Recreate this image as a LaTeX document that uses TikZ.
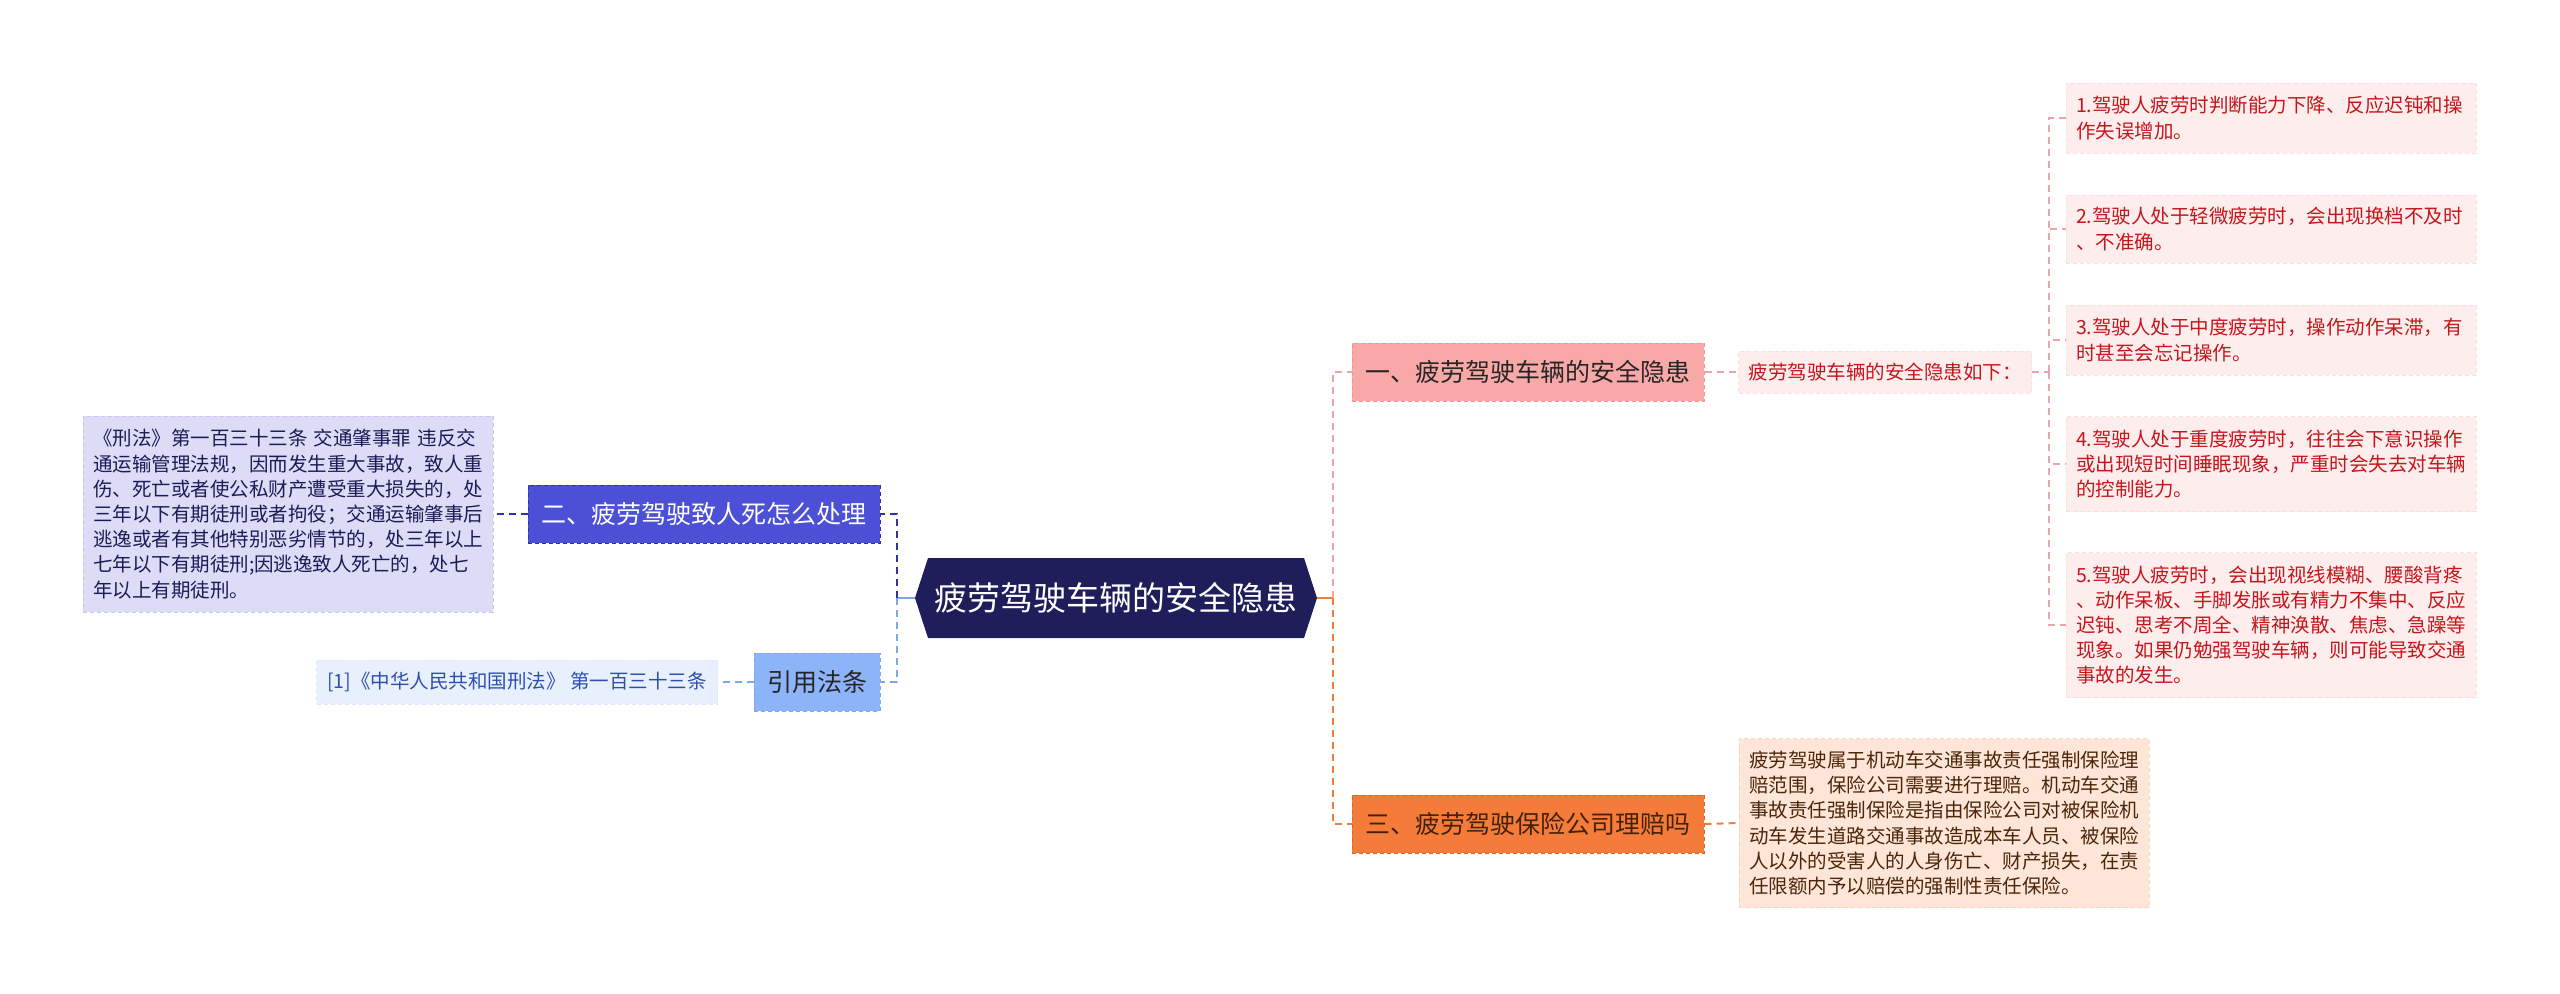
\documentclass[tikz,border=0pt]{standalone}
\usepackage{fontspec}
\setmainfont{Noto Sans CJK SC}
\usetikzlibrary{shapes}

\definecolor{navy}{HTML}{1F1D5A}
\definecolor{indigo}{HTML}{4B50D6}
\definecolor{indigoline}{HTML}{2F33A6}
\definecolor{lavender}{HTML}{DCDCF6}
\definecolor{lavendertext}{HTML}{1C1B57}
\definecolor{skyblue}{HTML}{8DB3F8}
\definecolor{skyline}{HTML}{7EA6EE}
\definecolor{icefill}{HTML}{E9F0FD}
\definecolor{icetext}{HTML}{2C4FAE}
\definecolor{rose}{HTML}{F9A8A8}
\definecolor{roseline}{HTML}{EBA5A5}
\definecolor{blush}{HTML}{FDEDED}
\definecolor{blushtext}{HTML}{C4161C}
\definecolor{tangerine}{HTML}{F47B3A}
\definecolor{tangerineline}{HTML}{EF7E3C}
\definecolor{peach}{HTML}{FDE5D8}
\definecolor{peachtext}{HTML}{4B2608}

\begin{document}
\begin{tikzpicture}[x=0.5pt, y=-0.5pt,
    box/.style={rectangle, line width=0.5pt, dash pattern=on 2pt off 1.5pt,
        inner xsep=5pt, inner ysep=3pt},
    small/.style={font=\fontsize{9.75pt}{12.6pt}\selectfont},
    topic/.style={box, font=\fontsize{12.5pt}{15pt}\selectfont,
        minimum width=176pt, minimum height=29pt},
    note/.style={box, small, align=left, text width=195pt},
    leaf/.style={note, fill=blush, draw=blush!80!roseline, text=blushtext},
    link/.style={line width=1pt, dash pattern=on 3.5pt off 2.5pt}]
    \useasboundingbox (0,0) rectangle (2560,993);

    % centre
    \node[signal, signal to=east and west, signal pointer angle=144,
        fill=navy, text=white, font=\fontsize{16.5pt}{20pt}\selectfont,
        minimum width=201pt, minimum height=40pt, inner sep=0pt]
        (root) at (1116,598) {疲劳驾驶车辆的安全隐患};

    % left side
    \node[topic, fill=indigo, draw=indigoline, text=white]
        (law) at (704,514) {二、疲劳驾驶致人死怎么处理};
    \node[note, fill=lavender, draw=lavender!85!indigo, text=lavendertext,
        minimum height=98pt] (lawtext) at (288,514)
        {《刑法》第一百三十三条 交通肇事罪 违反交\\
         通运输管理法规，因而发生重大事故，致人重\\
         伤、死亡或者使公私财产遭受重大损失的，处\\
         三年以下有期徒刑或者拘役；交通运输肇事后\\
         逃逸或者有其他特别恶劣情节的，处三年以上\\
         七年以下有期徒刑;因逃逸致人死亡的，处七\\
         年以上有期徒刑。};
    \node[topic, fill=skyblue, draw=skyline, text=black!85,
        minimum width=63pt] (cite) at (817,682) {引用法条};
    \node[box, small, fill=icefill, draw=icefill!90!skyline, text=icetext,
        minimum width=200.5pt, minimum height=22pt]
        (citetext) at (517,682) {[1]《中华人民共和国刑法》 第一百三十三条};

    % right side
    \node[topic, fill=rose, draw=rose!85!red, text=black!85]
        (risk) at (1528,372) {一、疲劳驾驶车辆的安全隐患};
    \node[box, small, fill=blush, draw=blush!80!roseline, text=blushtext,
        minimum width=146pt, minimum height=21pt]
        (risklist) at (1885,372) {疲劳驾驶车辆的安全隐患如下：};
    \node[leaf, minimum height=35pt] (r1) at (2271,118)
        {1.驾驶人疲劳时判断能力下降、反应迟钝和操\\作失误增加。};
    \node[leaf, minimum height=34pt] (r2) at (2271,229)
        {2.驾驶人处于轻微疲劳时，会出现换档不及时\\、不准确。};
    \node[leaf, minimum height=35pt] (r3) at (2271,340)
        {3.驾驶人处于中度疲劳时，操作动作呆滞，有\\时甚至会忘记操作。};
    \node[leaf, minimum height=47.5pt] (r4) at (2271,464)
        {4.驾驶人处于重度疲劳时，往往会下意识操作\\
         或出现短时间睡眠现象，严重时会失去对车辆\\
         的控制能力。};
    \node[leaf, minimum height=72.5pt] (r5) at (2271,625)
        {5.驾驶人疲劳时，会出现视线模糊、腰酸背疼\\
         、动作呆板、手脚发胀或有精力不集中、反应\\
         迟钝、思考不周全、精神涣散、焦虑、急躁等\\
         现象。如果仍勉强驾驶车辆，则可能导致交通\\
         事故的发生。};
    \node[topic, fill=tangerine, draw=tangerine!85!black, text=peachtext!90!black]
        (claim) at (1528,824) {三、疲劳驾驶保险公司理赔吗};
    \node[note, fill=peach, draw=peach!85!tangerine, text=peachtext,
        minimum height=84.5pt] (claimtext) at (1944,823)
        {疲劳驾驶属于机动车交通事故责任强制保险理\\
         赔范围，保险公司需要进行理赔。机动车交通\\
         事故责任强制保险是指由保险公司对被保险机\\
         动车发生道路交通事故造成本车人员、被保险\\
         人以外的受害人的人身伤亡、财产损失，在责\\
         任限额内予以赔偿的强制性责任保险。};

    % connectors
    \coordinate (lj) at (897,598);
    \coordinate (rj) at (1333,598);
    \coordinate (kj) at (2049,372);
    \draw[line width=1pt, skyline] (root.west) -- (lj);
    \draw[link, indigoline] (lj) |- (law.east);
    \draw[link, skyline] (lj) |- (cite.east);
    \draw[link, indigoline] (law.west) -- (lawtext.east);
    \draw[link, skyline] (cite.west) -- (citetext.east);
    \draw[line width=1pt, tangerineline] (root.east) -- (rj);
    \draw[link, roseline] (rj) |- (risk.west);
    \draw[link, tangerineline] (rj) |- (claim.west);
    \draw[link, roseline] (risk.east) -- (risklist.west);
    \draw[link, tangerineline] (claim.east) -- (claimtext.west);
    \draw[link, roseline] (risklist.east) -- (kj);
    \foreach \i in {1,...,5}
        \draw[link, roseline] (kj) |- (r\i.west);
\end{tikzpicture}
\end{document}
